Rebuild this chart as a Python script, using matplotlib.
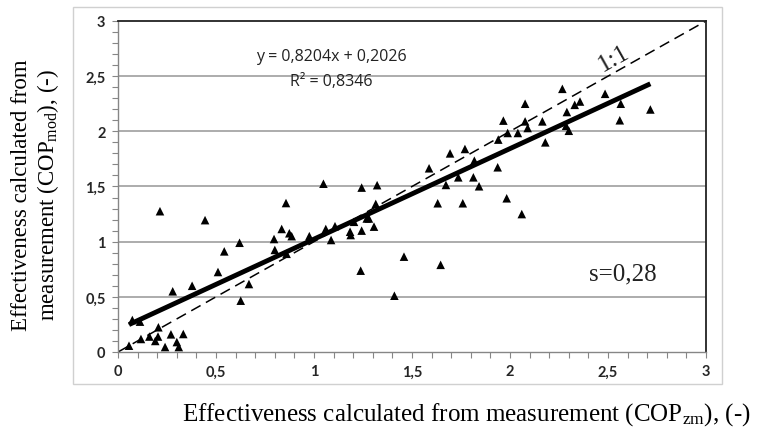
import matplotlib.pyplot as plt
from matplotlib.patches import Rectangle
from matplotlib.ticker import MultipleLocator, FuncFormatter
import numpy as np

plt.rcParams['mathtext.fontset'] = 'custom'
plt.rcParams['mathtext.rm'] = 'Liberation Serif'
plt.rcParams['mathtext.it'] = 'Liberation Serif:italic'

# measured vs modelled COP
cop_zm = [0.056, 0.073, 0.112, 0.117, 0.16, 0.19, 0.204, 0.206, 0.24, 0.27,
          0.30, 0.31, 0.333, 0.279, 0.378, 0.214, 0.444, 0.51, 0.542, 0.62,
          0.626, 0.668, 0.796, 0.80, 0.835, 0.857, 0.86, 0.874, 0.886, 0.976,
          1.048, 1.06, 1.087, 1.107, 1.184, 1.187, 1.204, 1.238, 1.243, 1.243,
          1.269, 1.28, 1.306, 1.315, 1.322, 1.41, 1.459, 1.587, 1.631, 1.646,
          1.673, 1.694, 1.736, 1.759, 1.77, 1.813, 1.818, 1.842, 1.937, 1.94,
          1.966, 1.983, 1.988, 2.04, 2.06, 2.077, 2.077, 2.09, 2.165, 2.18,
          2.267, 2.286, 2.29, 2.30, 2.33, 2.357, 2.485, 2.565, 2.56, 2.716]
cop_mod = [0.057, 0.29, 0.275, 0.118, 0.14, 0.10, 0.14, 0.224, 0.045, 0.16,
           0.09, 0.045, 0.163, 0.55, 0.60, 1.276, 1.195, 0.725, 0.912, 0.99,
           0.465, 0.616, 1.024, 0.925, 1.115, 1.35, 0.89, 1.076, 1.05, 1.05,
           1.525, 1.115, 1.015, 1.14, 1.09, 1.06, 1.18, 0.737, 1.10, 1.49,
           1.21, 1.21, 1.136, 1.342, 1.512, 0.51, 0.864, 1.665, 1.348, 0.79,
           1.514, 1.80, 1.583, 1.348, 1.84, 1.583, 1.734, 1.502, 1.674, 1.925,
           2.097, 1.393, 1.985, 1.985, 1.25, 2.25, 2.09, 2.03, 2.09, 1.90,
           2.385, 2.05, 2.175, 2.005, 2.24, 2.27, 2.34, 2.25, 2.10, 2.198]

slope = 0.8204
intercept = 0.2026
r2 = 0.8346
s_val = "0,28"

fig = plt.figure(figsize=(7.59, 4.31), dpi=100)
fig.patches.append(Rectangle((0.0962, 0.1067), 0.855, 0.875, transform=fig.transFigure,
                             fill=False, edgecolor='#d0d0d0', lw=1.0))
ax = fig.add_axes([0.1555, 0.181, 0.7747, 0.768])

ax.set_xlim(0, 3)
ax.set_ylim(0, 3)
for y in np.arange(0.5, 3.0, 0.5):
    ax.axhline(y, color='#a6a6a6', lw=1.3, zorder=0)

ax.plot([0, 3], [0, 3], color='black', lw=1.1, dashes=(7, 4), zorder=2)
xf = np.array([min(cop_zm), max(cop_zm)])
ax.plot(xf, slope * xf + intercept, color='black', lw=3.5, solid_capstyle='butt', zorder=3)
ax.scatter(cop_zm, cop_mod, marker='^', s=38, color='black', edgecolors='none', zorder=4)

ax.xaxis.set_major_locator(MultipleLocator(0.5))
ax.yaxis.set_major_locator(MultipleLocator(0.5))
ax.xaxis.set_minor_locator(MultipleLocator(0.1))
ax.yaxis.set_minor_locator(MultipleLocator(0.1))
fmt = FuncFormatter(lambda v, p: ('%g' % v).replace('.', ','))
ax.xaxis.set_major_formatter(fmt)
ax.yaxis.set_major_formatter(fmt)
ax.tick_params(which='both', direction='out', length=4, width=0.8, color='#868686')
ax.tick_params(which='major', labelsize=10.5, labelcolor='#262626', pad=5)
for lab in ax.get_xticklabels() + ax.get_yticklabels():
    lab.set_fontfamily('Lato')
    lab.set_fontweight('bold')

for side in ['left', 'bottom']:
    ax.spines[side].set_color('#868686')
    ax.spines[side].set_linewidth(1.0)
for side in ['top', 'right']:
    ax.spines[side].set_color('#222222')
    ax.spines[side].set_linewidth(1.3)

ax.text(1.087, 2.68, 'y = ' + ('%.4f' % slope).replace('.', ',') + 'x + '
        + ('%.4f' % intercept).replace('.', ','), ha='center', va='center',
        fontsize=11.5, family='Open Sans', color='#222222')
ax.text(1.087, 2.455, 'R² = ' + ('%.4f' % r2).replace('.', ','), ha='center', va='center',
        fontsize=11.5, family='Open Sans', color='#222222')
ax.text(2.53, 2.665, '1:1', rotation=29.4, ha='center', va='center',
        fontsize=18, family='Liberation Serif', color='#222222')
ax.text(2.577, 0.716, 's=' + s_val, ha='center', va='center',
        fontsize=18, family='Liberation Serif', color='#222222')

fig.text(0.614, 0.037, r'Effectiveness calculated from measurement (COP$_{\mathrm{zm}}$), (-)',
         ha='center', va='center', fontsize=18, family='Liberation Serif')
fig.text(0.047, 0.548, 'Effectiveness calculated from\n' + r'measurement (COP$_{\mathrm{mod}}$), (-)',
         ha='center', va='center', rotation=90, fontsize=16.5, family='Liberation Serif',
         linespacing=1.15, multialignment='center')

fig.savefig('out.png', dpi=100)
